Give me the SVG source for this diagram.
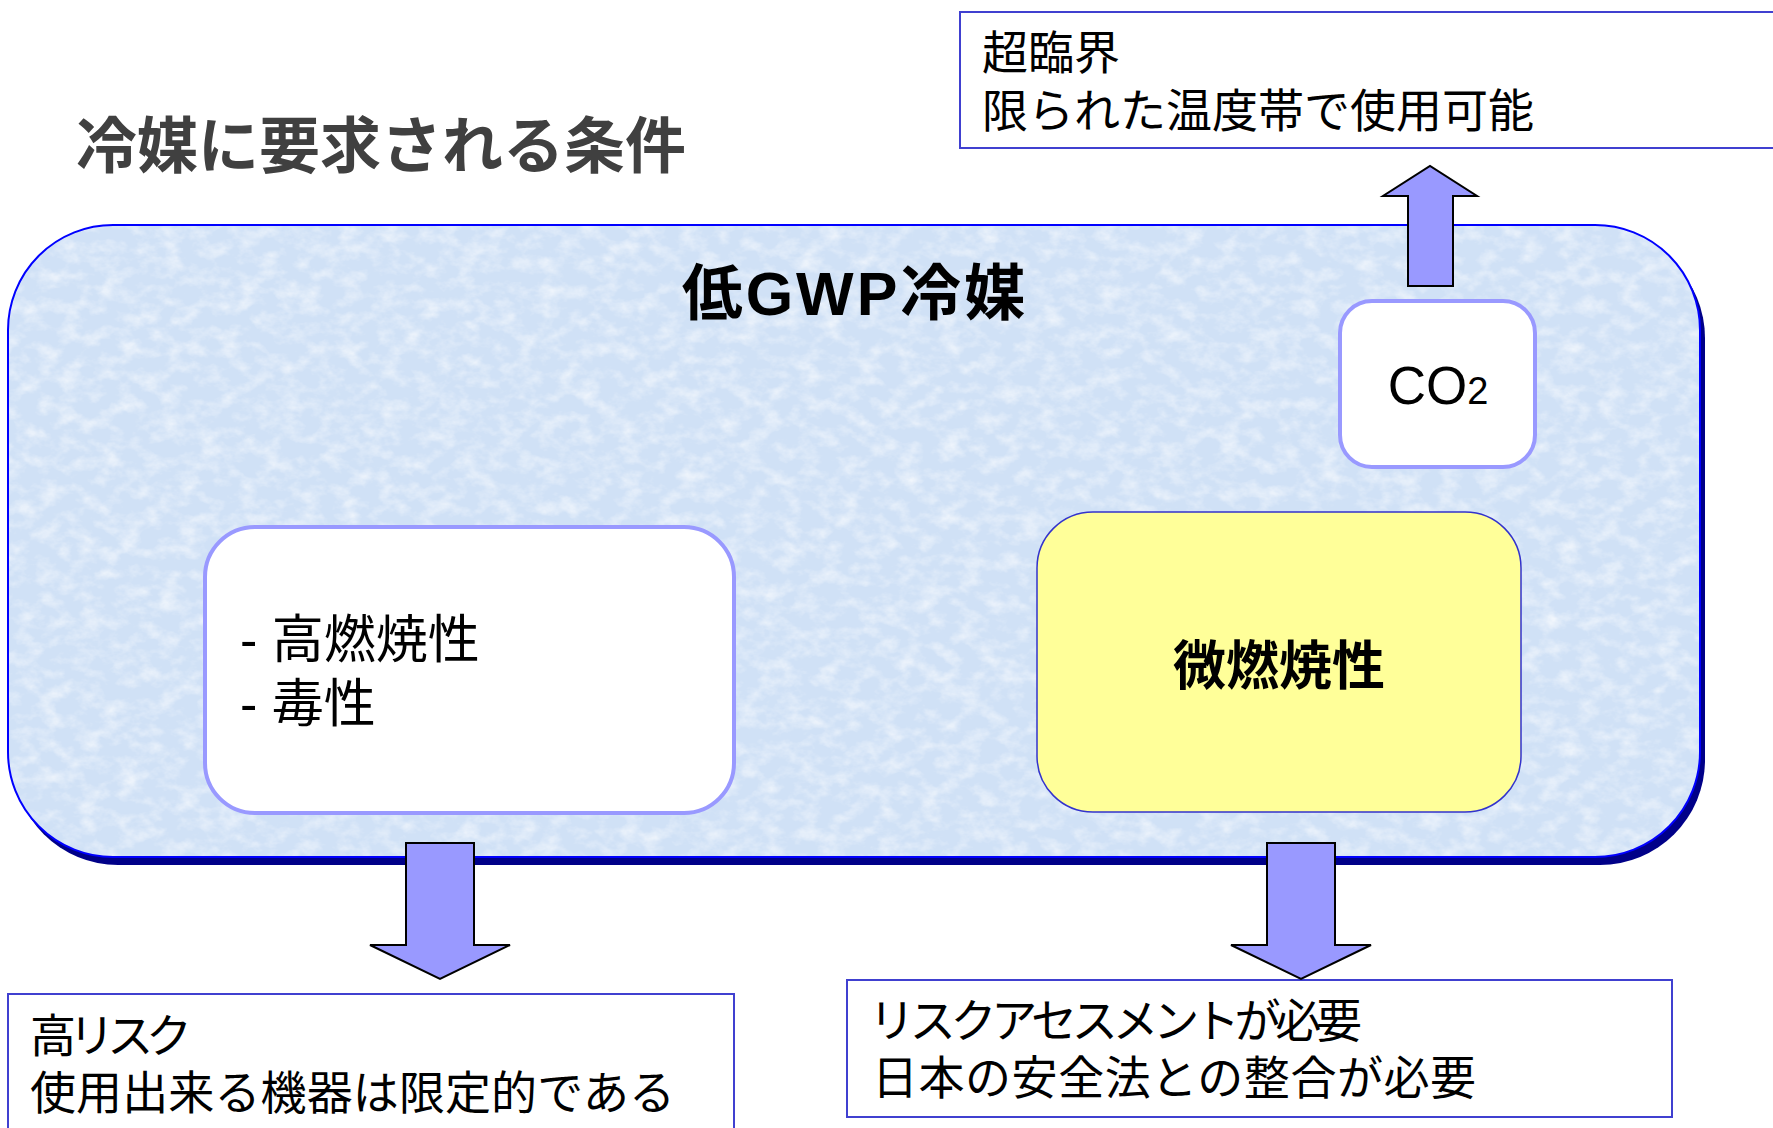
<svg xmlns="http://www.w3.org/2000/svg" width="1773" height="1128" viewBox="0 0 1773 1128">
<defs>
<style>
.jp{font-family:"Liberation Sans","Noto Sans CJK JP",sans-serif;fill:#000;}
.b{font-weight:bold;}
.note{fill:#fff;stroke:#4040D0;stroke-width:2;}
.inner{fill:#fff;stroke:#9999FF;stroke-width:4;}
.arrow{fill:#9999FF;stroke:#000;stroke-width:2;stroke-linejoin:miter;}
</style>
<filter id="tex" x="0" y="0" width="100%" height="100%">
<feTurbulence type="fractalNoise" baseFrequency="0.05 0.07" numOctaves="4" seed="7" result="n"/>
<feColorMatrix in="n" type="matrix" values="0 0 0 0 1  0 0 0 0 1  0 0 0 0 1  1.3 0 0 0 -0.55" result="w"/>
<feComposite in="w" in2="SourceGraphic" operator="in"/>
</filter>
</defs>
<rect width="1773" height="1128" fill="#fff"/>

<g id="title">
<text class="jp b" x="76" y="168" font-size="61" style="fill:#404040">冷媒に要求される条件</text>
</g>

<g id="container">
<rect x="13" y="233" width="1692" height="632" rx="105" fill="#000088"/>
<rect x="8" y="225" width="1692" height="632" rx="105" fill="#D0E1F6"/>
<rect x="8" y="225" width="1692" height="632" rx="105" fill="#fff" filter="url(#tex)"/>
<rect x="8" y="225" width="1692" height="632" rx="105" fill="none" stroke="#0000FF" stroke-width="2"/>
<text class="jp b" x="855" y="315" font-size="61" letter-spacing="3" text-anchor="middle">低GWP冷媒</text>
</g>

<g id="node-co2">
<rect class="inner" x="1340" y="301" width="195" height="166" rx="32"/>
<text class="jp" x="1438" y="404" text-anchor="middle"><tspan font-size="53">CO</tspan><tspan font-size="38">2</tspan></text>
</g>

<g id="node-high">
<rect class="inner" x="205" y="527" width="529" height="286" rx="50"/>
<text class="jp" x="240" y="658" font-size="52">- 高燃焼性</text>
<text class="jp" x="240" y="722" font-size="52">- 毒性</text>
</g>

<g id="node-mild">
<rect x="1037" y="512" width="484" height="300" rx="56" fill="#FFFF99" stroke="#3333CC" stroke-width="1.5"/>
<text class="jp b" x="1279" y="685" font-size="53" text-anchor="middle">微燃焼性</text>
</g>

<g id="note-co2">
<rect class="note" x="960" y="12" width="840" height="136"/>
<text class="jp" x="982" y="69" font-size="46">超臨界</text>
<text class="jp" x="982" y="127" font-size="46">限られた温度帯で使用可能</text>
</g>

<g id="note-high">
<rect class="note" x="8" y="994" width="726" height="160"/>
<text class="jp" x="30" y="1052" font-size="46" textLength="162" lengthAdjust="spacing">高リスク</text>
<text class="jp" x="30" y="1109" font-size="46" textLength="645" lengthAdjust="spacing">使用出来る機器は限定的である</text>
</g>

<g id="note-mild">
<rect class="note" x="847" y="980" width="825" height="137"/>
<text class="jp" x="869" y="1037" font-size="46" textLength="493" lengthAdjust="spacing">リスクアセスメントが必要</text>
<text class="jp" x="872" y="1094" font-size="46" textLength="604" lengthAdjust="spacing">日本の安全法との整合が必要</text>
</g>

<g id="connectors">
<polygon class="arrow" points="1408,286 1408,196 1383,196 1430,166 1477,196 1453,196 1453,286"/>
<polygon class="arrow" points="406,843 474,843 474,945 510,945 440,979 370,945 406,945"/>
<polygon class="arrow" points="1267,843 1335,843 1335,945 1371,945 1301,979 1231,945 1267,945"/>
</g>
</svg>
